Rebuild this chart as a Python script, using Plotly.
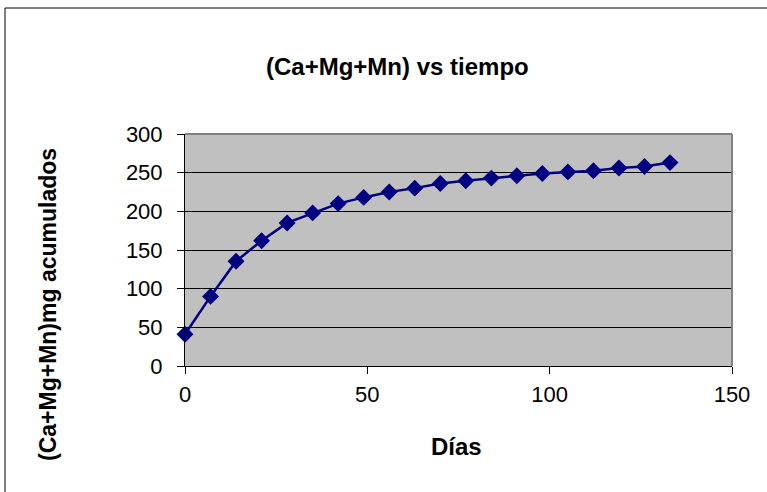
import plotly.graph_objects as go

# Cumulative (Ca+Mg+Mn) release, mg, sampled weekly
dias = [0, 7, 14, 21, 28, 35, 42, 49, 56, 63, 70, 77, 84, 91, 98, 105, 112, 119, 126, 133]
acumulado = [41, 90, 135.5, 162, 185, 198, 210, 218, 225, 230, 236, 239.5, 243, 246,
             249, 251, 252.5, 256, 258, 263]

x_ticks = [0, 50, 100, 150]
y_ticks = [0, 50, 100, 150, 200, 250, 300]

titulo = "(Ca+Mg+Mn) vs tiempo"
titulo_x = "Días"
titulo_y = "(Ca+Mg+Mn)mg acumulados"

W, H = 767, 492
L, R, T, B = 185, 35, 134, 126
pw, ph = W - L - R, H - T - B


def px(xp):
    return (xp - L) / pw


def py(yp):
    return (H - B - yp) / ph


FONT = "Liberation Sans, Arial, sans-serif"
NAVY = "#000080"

fig = go.Figure(
    go.Scatter(
        x=dias,
        y=acumulado,
        mode="lines+markers",
        line=dict(color=NAVY, width=2.5),
        marker=dict(symbol="diamond", size=13, color=NAVY),
        cliponaxis=False,
    )
)

axis_common = dict(
    showline=True,
    linecolor="black",
    linewidth=1,
    ticks="outside",
    ticklen=7,
    tickcolor="black",
    tickfont=dict(family=FONT, size=22, color="black"),
    zeroline=False,
    fixedrange=True,
)

fig.update_xaxes(
    range=[0, 150],
    tickvals=x_ticks,
    showgrid=False,
    ticklabelstandoff=2,
    **axis_common,
)
fig.update_yaxes(
    range=[0, 300],
    tickvals=y_ticks,
    showgrid=True,
    gridcolor="black",
    gridwidth=1,
    ticklabelstandoff=10,
    **axis_common,
)

shapes = [
    # plot-area border on the top and right sides
    dict(type="line", xref="paper", yref="paper", x0=0, x1=1, y0=1, y1=1,
         line=dict(color="#808080", width=2), layer="above"),
    dict(type="line", xref="paper", yref="paper", x0=1, x1=1, y0=0, y1=1,
         line=dict(color="#808080", width=2), layer="above"),
    # outer chart frame
    dict(type="line", xref="paper", yref="paper", x0=px(5), x1=px(W + 5),
         y0=py(8), y1=py(8), line=dict(color="black", width=1)),
    dict(type="line", xref="paper", yref="paper", x0=px(5), x1=px(5),
         y0=py(8), y1=py(H + 5), line=dict(color="black", width=1)),
]

annotations = [
    dict(text=f"<b>{titulo}</b>", x=px(397), y=py(66), xref="paper", yref="paper",
         showarrow=False, xanchor="center", yanchor="middle",
         font=dict(family=FONT, size=24, color="black")),
    dict(text=f"<b>{titulo_x}</b>", x=px(456), y=py(446), xref="paper", yref="paper",
         showarrow=False, xanchor="center", yanchor="middle",
         font=dict(family=FONT, size=24, color="black")),
    dict(text=f"<b>{titulo_y}</b>", x=px(48), y=py(305), xref="paper", yref="paper",
         showarrow=False, xanchor="center", yanchor="middle", textangle=-90,
         font=dict(family=FONT, size=23, color="black")),
]

fig.update_layout(
    width=W,
    height=H,
    margin=dict(l=L, r=R, t=T, b=B, autoexpand=False),
    paper_bgcolor="white",
    plot_bgcolor="#C0C0C0",
    showlegend=False,
    shapes=shapes,
    annotations=annotations,
)

fig.write_html("out.html")
